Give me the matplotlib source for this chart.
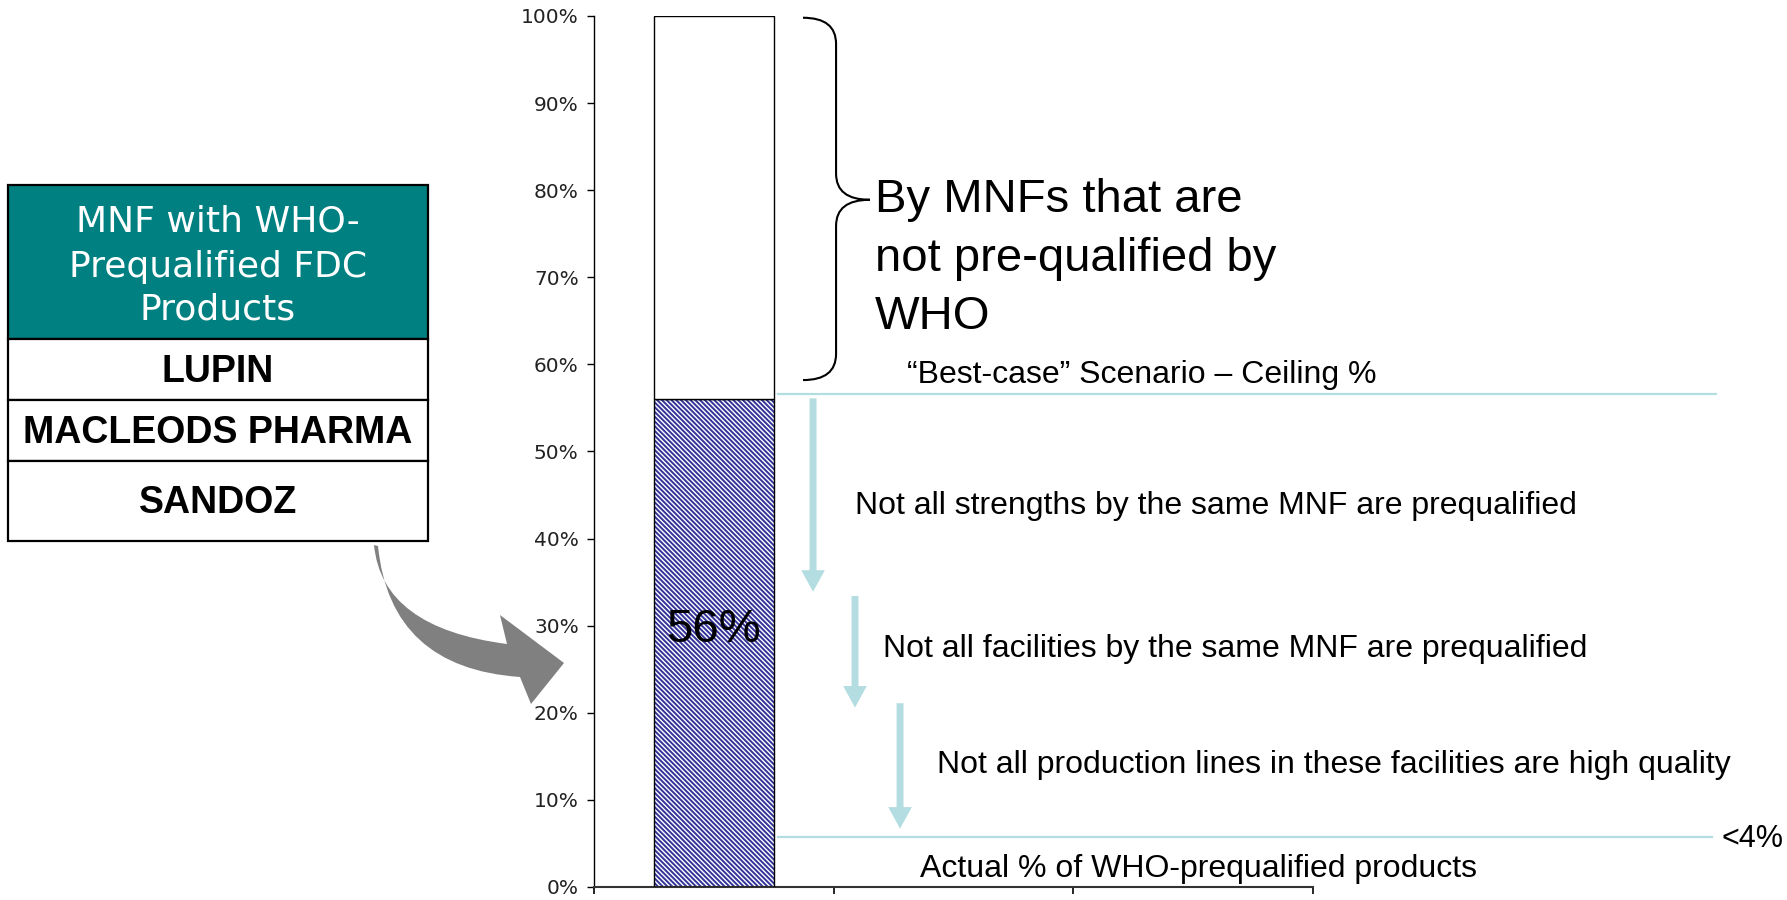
import matplotlib
matplotlib.use("Agg")
import matplotlib.pyplot as plt
from matplotlib.path import Path
from matplotlib.patches import PathPatch, Rectangle, FancyArrowPatch

# ---------------- data ----------------
slots = [0, 1, 2]                      # three category slots on the x axis
bar_positions = [0]
prequalified_share = [56]              # hatched part (%)
not_prequalified_share = [44]          # white part on top (%)
y_ticks = [0, 10, 20, 30, 40, 50, 60, 70, 80, 90, 100]
y_tick_labels = [f"{v}%" for v in y_ticks]
bar_label = "56%"

ceiling_level = 56.6
actual_level = 5.7
actual_label = "<4%"

step_x = [0.414, 0.589, 0.777]
step_top = [56.1, 33.4, 21.1]
step_bottom = [33.9, 20.6, 6.7]
step_texts = ["Not all strengths by the same MNF are prequalified",
              "Not all facilities by the same MNF are prequalified",
              "Not all production lines in these facilities are high quality"]
step_text_x = [0.589, 0.706, 0.931]
step_text_y = [42.8, 26.4, 13.1]

ceiling_text = "\u201cBest-case\u201d Scenario \u2013 Ceiling %"
actual_text = "Actual % of WHO-prequalified products"
brace_lines = ["By MNFs that are", "not pre-qualified by", "WHO"]

table_header = ["MNF with WHO-", "Prequalified FDC", "Products"]
table_rows = ["LUPIN", "MACLEODS PHARMA", "SANDOZ"]

# ---------------- style ----------------
TEAL = "#008080"
LIGHTBLUE = "#B4DDE1"
NAVY = "#333399"
GREY = "#808080"
ARIAL = "Liberation Sans"

plt.rcParams["hatch.linewidth"] = 1.4

W, H = 1787, 900
fig = plt.figure(figsize=(W / 100, H / 100), dpi=100)

# overlay in pixel coordinates for the decorative table / arrow
ov = fig.add_axes([0, 0, 1, 1], zorder=0)
ov.set_xlim(0, W)
ov.set_ylim(H, 0)
ov.axis("off")

ax = fig.add_axes([594 / W, 1 - 887 / H, (1313 - 594) / W, (887 - 16) / H], zorder=1)
ax.patch.set_alpha(0)

# bars
ax.bar(bar_positions, prequalified_share, width=0.5, color="white",
       edgecolor=NAVY, linewidth=0, hatch="\\" * 7, zorder=2)
ax.bar(bar_positions, prequalified_share, width=0.5, facecolor="none",
       edgecolor="black", linewidth=1.0, zorder=3)
ax.bar(bar_positions, not_prequalified_share, bottom=prequalified_share, width=0.5,
       color="white", edgecolor="black", linewidth=1.0, zorder=3)

ax.set_xlim(-0.5, len(slots) - 0.5)
ax.set_ylim(0, 100)
ax.set_yticks(y_ticks)
ax.set_yticklabels(y_tick_labels, fontsize=14.5, family="DejaVu Sans", color="#222222")
ax.set_xticks([s - 0.5 for s in slots] + [slots[-1] + 0.5])
ax.set_xticklabels([])
ax.tick_params(axis="y", direction="out", length=5, width=1, pad=6)
ax.tick_params(axis="x", direction="out", length=5, width=1.2)
for s in ["top", "right"]:
    ax.spines[s].set_visible(False)
ax.spines["left"].set_linewidth(1.0)
ax.spines["bottom"].set_linewidth(1.5)
ax.spines["bottom"].set_color("#333333")

# bar value label
ax.text(bar_positions[0], 28.1, bar_label, ha="center", va="baseline",
        fontsize=34, family=ARIAL, zorder=4)

# ceiling / actual lines
ax.plot([0.268, 4.181], [ceiling_level, ceiling_level], color=LIGHTBLUE, lw=1.6,
        clip_on=False, zorder=2)
ax.plot([0.268, 4.164], [actual_level, actual_level], color=LIGHTBLUE, lw=1.6,
        clip_on=False, zorder=2)
ax.text(0.806, 57.9, ceiling_text, ha="left", va="baseline", fontsize=23, family=ARIAL)
ax.text(0.860, 1.2, actual_text, ha="left", va="baseline", fontsize=23, family=ARIAL)
ax.text(4.206, 4.6, actual_label, ha="left", va="baseline", fontsize=22, family=ARIAL,
        clip_on=False)

# step arrows and texts
for x, t, b in zip(step_x, step_top, step_bottom):
    arr = FancyArrowPatch((x, t), (x, b),
                          arrowstyle="simple,head_length=15.5,head_width=17,tail_width=5",
                          mutation_scale=1, color=LIGHTBLUE, lw=0,
                          shrinkA=0, shrinkB=0, clip_on=False, zorder=2)
    ax.add_patch(arr)
for txt, x, y in zip(step_texts, step_text_x, step_text_y):
    ax.text(x, y, txt, ha="left", va="baseline", fontsize=23, family=ARIAL)

# curly brace
x0, xm, xt = 0.372, 0.510, 0.651
ytop, ytip, ybot = 99.8, 78.9, 58.2
r = 3.0
verts = [(x0, ytop), (xm, ytop), (xm, ytop - r),
         (xm, ytip + r),
         (xm, ytip), (xt, ytip),
         (xm, ytip), (xm, ytip - r),
         (xm, ybot + r),
         (xm, ybot), (x0, ybot)]
codes = [Path.MOVETO, Path.CURVE3, Path.CURVE3,
         Path.LINETO,
         Path.CURVE3, Path.CURVE3,
         Path.CURVE3, Path.CURVE3,
         Path.LINETO,
         Path.CURVE3, Path.CURVE3]
ax.add_patch(PathPatch(Path(verts, codes), facecolor="none", edgecolor="black",
                       lw=1.5, clip_on=False, zorder=3))
for line, yb in zip(brace_lines, [77.5, 70.7, 64.1]):
    ax.text(0.672, yb, line, ha="left", va="baseline", fontsize=34, family=ARIAL)

# ---------------- left table (pixel overlay) ----------------
tx0, tx1 = 8, 428
rows_y = [185, 339, 400, 461, 541]
ov.add_patch(Rectangle((tx0, rows_y[0]), tx1 - tx0, rows_y[1] - rows_y[0],
                       facecolor=TEAL, edgecolor="black", lw=1.6))
for i in range(3):
    ov.add_patch(Rectangle((tx0, rows_y[i + 1]), tx1 - tx0, rows_y[i + 2] - rows_y[i + 1],
                           facecolor="white", edgecolor="black", lw=1.6))
cx = (tx0 + tx1) / 2
for line, yb in zip(table_header, [232, 277, 320]):
    ov.text(cx, yb, line, ha="center", va="baseline", fontsize=26,
            family="DejaVu Sans", color="white")
for line, yb in zip(table_rows, [382, 443, 513]):
    ov.text(cx, yb, line, ha="center", va="baseline", fontsize=27,
            family=ARIAL, fontweight="bold", color="black")

# grey curved arrow
gverts = [(374, 545), (382, 628), (507, 644),
          (500, 615), (564, 663), (531, 704), (520, 677),
          (390, 668), (378, 546), (374, 545)]
gcodes = [Path.MOVETO, Path.CURVE3, Path.CURVE3,
          Path.LINETO, Path.LINETO, Path.LINETO, Path.LINETO,
          Path.CURVE3, Path.CURVE3, Path.CLOSEPOLY]
ov.add_patch(PathPatch(Path(gverts, gcodes), facecolor=GREY, edgecolor="none"))

fig.savefig("out.png", dpi=100)
